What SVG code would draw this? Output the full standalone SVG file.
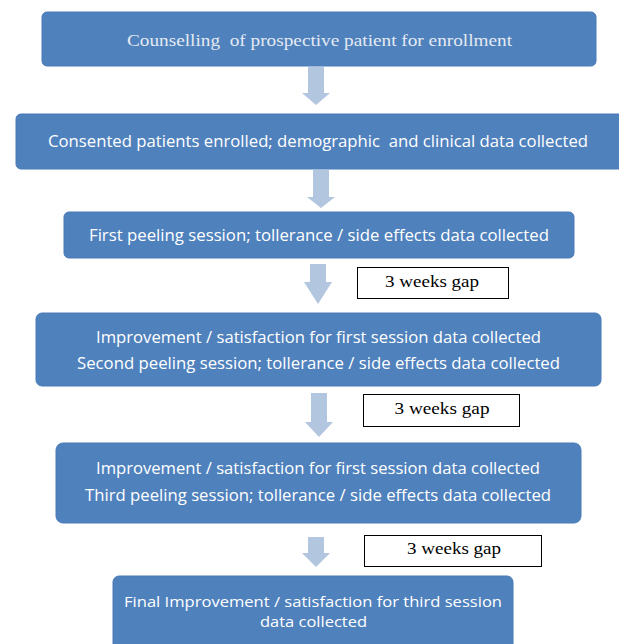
<svg xmlns="http://www.w3.org/2000/svg" width="619" height="644" viewBox="0 0 619 644">
<style>
.box{fill:#4F81BD;stroke:#4A7BB7;stroke-width:1}
.t{font-family:"Open Sans","Noto Sans",sans-serif;font-size:16px;fill:#ffffff;text-anchor:middle;white-space:pre}
.ts{font-family:"Liberation Serif","Times New Roman",serif;font-size:17px;text-anchor:middle;white-space:pre}
.gap{fill:#ffffff;stroke:#000000;stroke-width:1}
.arr{fill:#B3C6E0}
</style>
<rect width="619" height="644" fill="#ffffff"/>
<g id="connectors">
<path class="arr" d="M308,67 h16 v26 h6 l-14,12 l-14,-12 h6 z"/>
<path class="arr" d="M313,170 h16 v27 h6 l-14,11 l-14,-11 h6 z"/>
<path class="arr" d="M310,264 h16 v18 h6 l-14,22 l-14,-22 h6 z"/>
<path class="arr" d="M311,393 h16 v29 h6 l-14,15 l-14,-15 h6 z"/>
<path class="arr" d="M308,537 h16 v16 h6 l-14,14 l-14,-14 h6 z"/>
</g>
<g id="n1">
<rect class="box" x="42" y="12" width="554" height="54" rx="5"/>
<text class="ts" x="319.5" y="45.5" fill="#E4EAF2" textLength="385" lengthAdjust="spacingAndGlyphs" xml:space="preserve">Counselling  of prospective patient for enrollment</text>
</g>
<g id="n2">
<rect class="box" x="16" y="114" width="610" height="55" rx="5"/>
<text class="t" x="318" y="146.5" textLength="540" lengthAdjust="spacingAndGlyphs" xml:space="preserve">Consented patients enrolled; demographic  and clinical data collected</text>
</g>
<g id="n3">
<rect class="box" x="64" y="212" width="510" height="46" rx="5"/>
<text class="t" x="319" y="240.5" textLength="460" lengthAdjust="spacingAndGlyphs">First peeling session; tollerance / side effects data collected</text>
</g>
<g id="gap1">
<rect class="gap" x="357.5" y="267.5" width="151" height="31"/>
<text class="ts" x="432" y="286.5" textLength="94" lengthAdjust="spacingAndGlyphs">3 weeks gap</text>
</g>
<g id="n4">
<rect class="box" x="36" y="313" width="565" height="73" rx="6"/>
<text class="t" x="318.5" y="342.5" textLength="445" lengthAdjust="spacingAndGlyphs">Improvement / satisfaction for first session data collected</text>
<text class="t" x="318.5" y="368.5" textLength="483" lengthAdjust="spacingAndGlyphs">Second peeling session; tollerance / side effects data collected</text>
</g>
<g id="gap2">
<rect class="gap" x="363.5" y="394.5" width="156" height="32"/>
<text class="ts" x="442" y="413.5" textLength="95" lengthAdjust="spacingAndGlyphs">3 weeks gap</text>
</g>
<g id="n5">
<rect class="box" x="56" y="443" width="525" height="80" rx="7"/>
<text class="t" x="318" y="473.5" textLength="444" lengthAdjust="spacingAndGlyphs">Improvement / satisfaction for first session data collected</text>
<text class="t" x="318" y="500.5" textLength="466" lengthAdjust="spacingAndGlyphs">Third peeling session; tollerance / side effects data collected</text>
</g>
<g id="gap3">
<rect class="gap" x="364.5" y="535.5" width="177" height="31"/>
<text class="ts" x="454" y="554" textLength="94" lengthAdjust="spacingAndGlyphs">3 weeks gap</text>
</g>
<g id="n6">
<rect class="box" x="113" y="576" width="400" height="80" rx="6"/>
<text class="t" x="313" y="606.5" style="font-size:15px" textLength="378" lengthAdjust="spacingAndGlyphs">Final Improvement / satisfaction for third session</text>
<text class="t" x="313.5" y="627" style="font-size:15px" textLength="107" lengthAdjust="spacingAndGlyphs">data collected</text>
</g>
</svg>
